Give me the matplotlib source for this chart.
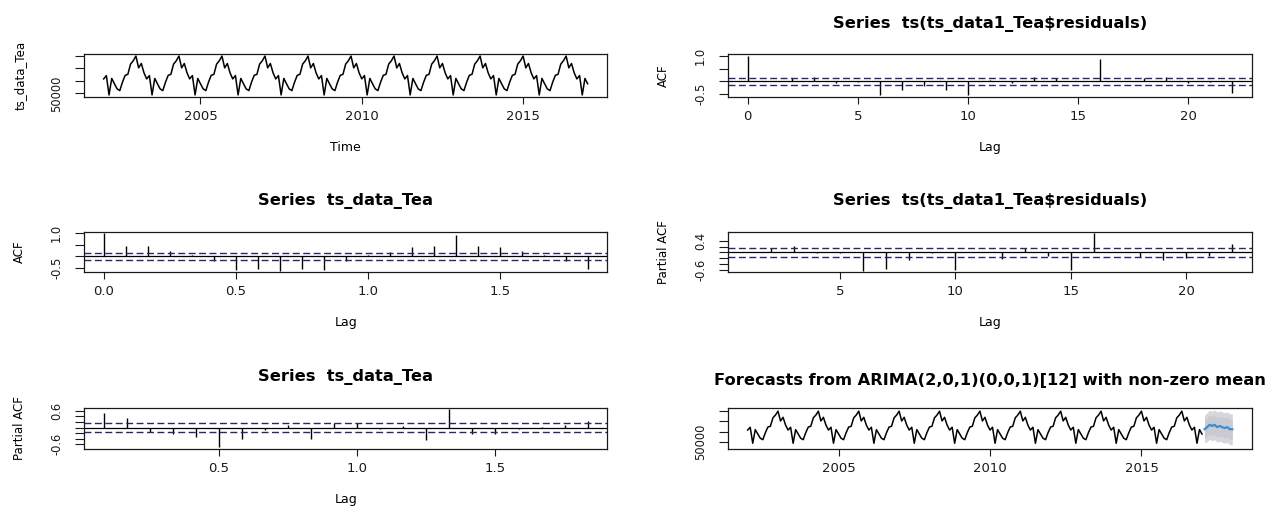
import matplotlib
matplotlib.use('Agg')
import matplotlib.pyplot as plt
import numpy as np

W, H = 1271, 507

# monthly tea series, Jan 2002 .. Jan 2017
tea = [
    61600, 64300,
    48700, 62000, 57700, 53600, 52200, 59000, 64500, 65300, 73500, 76200, 80000, 70500, 74000, 66500, 61600, 64300,
    48700, 62000, 57700, 53600, 52200, 59000, 64500, 65300, 73500, 76200, 80000, 70500, 74000, 66500, 61600, 64300,
    48700, 62000, 57700, 53600, 52200, 59000, 64500, 65300, 73500, 76200, 80000, 70500, 74000, 66500, 61600, 64300,
    48700, 62000, 57700, 53600, 52200, 59000, 64500, 65300, 73500, 76200, 80000, 70500, 74000, 66500, 61600, 64300,
    48700, 62000, 57700, 53600, 52200, 59000, 64500, 65300, 73500, 76200, 80000, 70500, 74000, 66500, 61600, 64300,
    48700, 62000, 57700, 53600, 52200, 59000, 64500, 65300, 73500, 76200, 80000, 70500, 74000, 66500, 61600, 64300,
    48700, 62000, 57700, 53600, 52200, 59000, 64500, 65300, 73500, 76200, 80000, 70500, 74000, 66500, 61600, 64300,
    48700, 62000, 57700, 53600, 52200, 59000, 64500, 65300, 73500, 76200, 80000, 70500, 74000, 66500, 61600, 64300,
    48700, 62000, 57700, 53600, 52200, 59000, 64500, 65300, 73500, 76200, 80000, 70500, 74000, 66500, 61600, 64300,
    48700, 62000, 57700, 53600, 52200, 59000, 64500, 65300, 73500, 76200, 80000, 70500, 74000, 66500, 61600, 64300,
    48700, 62000, 57700, 53600, 52200, 59000, 64500, 65300, 73500, 76200, 80000, 70500, 74000, 66500, 61600, 64300,
    48700, 62000, 57700,
]
tea_time = 2002 + np.arange(len(tea)) / 12

# forecast, Feb 2017 .. Jan 2018
fc_mean = [62400, 64400, 66700, 65600, 66700, 64400, 65600, 64400, 63600, 64400, 62400, 62400]
fc_lo80 = [53500, 55200, 57400, 56200, 57200, 54800, 56000, 54700, 53900, 54600, 52600, 52600]
fc_hi80 = [71300, 73600, 76000, 75000, 76200, 74000, 75200, 74100, 73300, 74200, 72200, 72200]
fc_lo95 = [48800, 50300, 52500, 51200, 52200, 49700, 50900, 49600, 48700, 49400, 47300, 47300]
fc_hi95 = [76000, 78500, 80900, 80000, 81200, 79100, 80300, 79200, 78500, 79400, 77500, 77500]
fc_time = tea_time[-1] + np.arange(1, len(fc_mean) + 1) / 12

# correlograms
acf_tea = [1.0, 0.46, 0.45, 0.24, 0.08, -0.21, -0.58, -0.55, -0.62, -0.55, -0.58, -0.21,
           0.06, 0.21, 0.39, 0.45, 0.92, 0.45, 0.41, 0.24, 0.08, -0.19, -0.55]
pacf_tea = [0.52, 0.34, -0.15, -0.24, -0.34, -0.71, -0.42, -0.09, 0.09, -0.42, 0.16,
            0.16, -0.05, 0.05, -0.46, 0.66, -0.25, -0.24, -0.07, 0.02, 0.09, 0.25]
acf_res = [1.0, 0.02, 0.12, 0.19, -0.05, -0.02, -0.55, -0.35, -0.19, -0.35, -0.55, 0.05,
           -0.05, 0.19, 0.12, 0.01, 0.88, 0.01, 0.12, 0.19, -0.05, -0.01, -0.48]
pacf_res = [0.01, 0.14, 0.22, -0.03, -0.03, -0.64, -0.57, -0.26, -0.03, -0.61, 0.01,
            -0.24, 0.16, -0.13, -0.60, 0.66, 0.02, -0.17, -0.26, -0.20, -0.12, 0.28]
n_obs = len(tea) - 1
clim = 2 / np.sqrt(n_obs)

DASH = '#27276e'
BOX = '#1a1a1a'

fig = plt.figure(figsize=(W / 100, H / 100), dpi=100)


def panel(x0, y0, x1, y1):
    ax = fig.add_axes([x0 / W, 1 - y1 / H, (x1 - x0) / W, (y1 - y0) / H])
    for s in ax.spines.values():
        s.set_linewidth(0.9)
        s.set_color(BOX)
    ax.tick_params(axis='x', length=4.8, width=0.8, pad=4.5, labelsize=9.5, colors=BOX)
    ax.tick_params(axis='y', length=6.7, width=0.8, pad=8.5, labelsize=8.3, colors=BOX)
    ax.wpx, ax.hpx = x1 - x0, y1 - y0
    return ax


def labels(ax, xlab=None, ylab=None, title=None, tpad=19):
    if xlab:
        ax.set_xlabel(xlab, fontsize=9)
        ax.xaxis.set_label_coords(0.5, -44 / ax.hpx)
    if ylab:
        ax.set_ylabel(ylab, fontsize=8.5)
        ax.yaxis.set_label_coords(-58 / ax.wpx, 0.5)
    if title:
        ax.set_title(title, fontsize=11.7, fontweight='bold', pad=tpad)


def corr(ax, lags, vals):
    ax.vlines(lags, 0, vals, colors='black', linewidth=1.0)
    ax.axhline(0, color='black', linewidth=0.9)
    ax.axhline(clim, color=DASH, linewidth=1.0, linestyle=(0, (5, 2.5)))
    ax.axhline(-clim, color=DASH, linewidth=1.0, linestyle=(0, (5, 2.5)))


LX0, LX1 = 84.3, 607
RX0, RX1 = 728.3, 1251.7
ROWS = [(54.3, 96.7), (231.7, 272.3), (407.7, 448.7)]

ts_ticks = [50000, 60000, 70000, 80000]
ts_labels = ['50000', '', '', '']

# top-left: the series
ax = panel(LX0, ROWS[0][0], LX1, ROWS[0][1])
ax.plot(tea_time, tea, color='black', linewidth=1.1)
ax.set_xlim(2001.4, 2017.6)
ax.set_ylim(47300, 81400)
ax.set_xticks([2005, 2010, 2015])
ax.set_yticks(ts_ticks, ts_labels, rotation=90, va='center')
labels(ax, 'Time', 'ts_data_Tea')

# middle-left: ACF of series
ax = panel(LX0, ROWS[1][0], LX1, ROWS[1][1])
corr(ax, np.arange(len(acf_tea)) / 12, acf_tea)
ax.set_xlim(-0.0733, 1.9067)
ax.set_ylim(-0.685, 1.065)
ax.set_xticks([0, 0.5, 1.0, 1.5], ['0.0', '0.5', '1.0', '1.5'])
ax.set_yticks([-0.5, 0, 0.5, 1.0], ['-0.5', '', '', '1.0'], rotation=90, va='center')
labels(ax, 'Lag', 'ACF', 'Series  ts_data_Tea')

# bottom-left: PACF of series
ax = panel(LX0, ROWS[2][0], LX1, ROWS[2][1])
corr(ax, np.arange(1, len(pacf_tea) + 1) / 12, pacf_tea)
ax.set_xlim(0.0133, 1.9033)
ax.set_ylim(-0.765, 0.715)
ax.set_xticks([0.5, 1.0, 1.5], ['0.5', '1.0', '1.5'])
ax.set_yticks([-0.6, -0.4, -0.2, 0, 0.2, 0.4, 0.6], ['-0.6', '', '', '', '', '', '0.6'],
              rotation=90, va='center')
labels(ax, 'Lag', 'Partial ACF', 'Series  ts_data_Tea')

# top-right: ACF of residuals
ax = panel(RX0, ROWS[0][0], RX1, ROWS[0][1])
corr(ax, np.arange(len(acf_res)), acf_res)
ax.set_xlim(-0.88, 22.88)
ax.set_ylim(-0.612, 1.075)
ax.set_xticks([0, 5, 10, 15, 20])
ax.set_yticks([-0.5, 0, 0.5, 1.0], ['-0.5', '', '', '1.0'], rotation=90, va='center')
labels(ax, 'Lag', 'ACF', 'Series  ts(ts_data1_Tea$residuals)')

# middle-right: PACF of residuals
ax = panel(RX0, ROWS[1][0], RX1, ROWS[1][1])
corr(ax, np.arange(1, len(pacf_res) + 1), pacf_res)
ax.set_xlim(0.16, 22.84)
ax.set_ylim(-0.692, 0.712)
ax.set_xticks([5, 10, 15, 20])
ax.set_yticks([-0.6, -0.4, -0.2, 0, 0.2, 0.4], ['-0.6', '', '', '', '', '0.4'],
              rotation=90, va='center')
labels(ax, 'Lag', 'Partial ACF', 'Series  ts(ts_data1_Tea$residuals)')

# bottom-right: forecast
ax = panel(RX0, ROWS[2][0], RX1, ROWS[2][1])
ax.fill_between(fc_time, fc_lo95, fc_hi95, color='#d6d6dc', linewidth=0)
ax.fill_between(fc_time, fc_lo80, fc_hi80, color='#cacad2', linewidth=0)
ax.plot(tea_time, tea, color='black', linewidth=1.1)
ax.plot(fc_time, fc_mean, color='#3a8fd4', linewidth=1.6)
ax.set_xlim(2001.36, 2018.64)
ax.set_ylim(43400, 83400)
ax.set_xticks([2005, 2010, 2015])
ax.set_yticks(ts_ticks, ts_labels, rotation=90, va='center')
labels(ax, title='Forecasts from ARIMA(2,0,1)(0,0,1)[12] with non-zero mean', tpad=16)

fig.savefig('out.png', dpi=100)
